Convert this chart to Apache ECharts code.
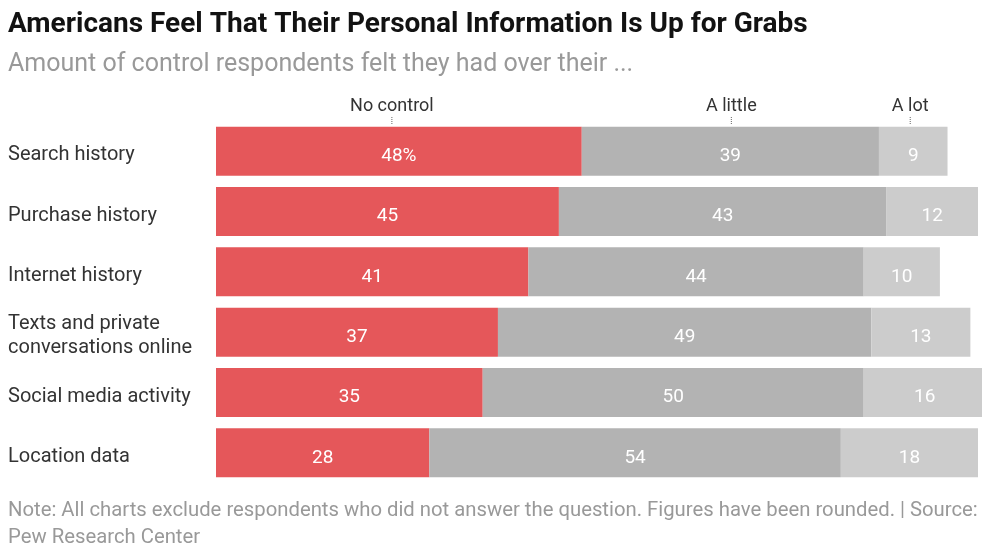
<!DOCTYPE html>
<html><head><meta charset="utf-8">
<script src="https://cdn.jsdelivr.net/npm/echarts@6/dist/echarts.min.js"></script>
<style>html,body{margin:0;padding:0;background:#fff}#c{width:982px;height:546px}</style>
</head><body><div id="c"></div>
<script>
const categories = ['Search history','Purchase history','Internet history','Texts and private\nconversations online','Social media activity','Location data'];
const seriesNames = ['No control','A little','A lot'];
const noControl = [48,45,41,37,35,28];
const aLittle = [39,43,44,49,50,54];
const aLot = [9,12,10,13,16,18];
const colors = ['#e5575a','#b3b3b3','#cccccc'];

const chart = echarts.init(document.getElementById('c'), null, {renderer:'canvas'});
const vals = [noControl, aLittle, aLot];
const series = seriesNames.map((n,i)=>({
  name:n, type:'bar', stack:'t', barWidth:49, clip:false,
  data: vals[i],
  itemStyle:{color:colors[i]},
  label:{show:true, position:'inside', color:'#fff', fontSize:19, fontFamily:'Roboto', offset:[0,5],
    formatter: p => (i===0 && p.dataIndex===0) ? p.value+'%' : String(p.value)}
}));
chart.setOption({
  animation:false,
  grid:{left:216, width:762, top:121, height:362},
  xAxis:{type:'value', min:0, max:100, show:false},
  yAxis:{type:'category', data:categories, inverse:true,
    axisLine:{show:false}, axisTick:{show:false}, axisLabel:{show:false}},
  title:[
    {text:'Americans Feel That Their Personal Information Is Up for Grabs', left:8, top:11, padding:0,
     textStyle:{fontSize:28, fontWeight:'bold', color:'#121212', fontFamily:'Roboto'}},
    {text:'Amount of control respondents felt they had over their ...', left:8, top:52, padding:0,
     textStyle:{fontSize:25, fontWeight:'normal', color:'#999', fontFamily:'Roboto'}},
    {text:'Note: All charts exclude respondents who did not answer the question. Figures have been rounded. | Source:\nPew Research Center', left:8, top:497, padding:0,
     textStyle:{fontSize:20.3, fontWeight:'normal', color:'#999', fontFamily:'Roboto', lineHeight:27}}
  ],
  series
});
const g = [];
// category labels, placed on the category axis positions
categories.forEach((c,k)=>{
  const y = chart.convertToPixel({yAxisIndex:0}, k) + 4;
  g.push({type:'text', x:8, y, style:{text:c, fill:'#333', fontSize:20, fontFamily:'Roboto', lineHeight:24, align:'left', verticalAlign:'middle'}});
});
// header labels over the first row's segments
let acc = 0;
const offs = [-7, 1, -3];
vals.forEach((arr,i)=>{
  const mid = acc + arr[0]/2; acc += arr[0];
  const x = chart.convertToPixel({gridIndex:0}, [mid, 0])[0] + offs[i];
  g.push({type:'text', x, y:106, style:{text:seriesNames[i], fill:'#333', fontSize:18, fontFamily:'Roboto', align:'center', verticalAlign:'middle'}});
  g.push({type:'line', shape:{x1:x, y1:117, x2:x, y2:125}, style:{stroke:'#666', lineWidth:1, lineDash:[1,1]}});
});
chart.setOption({graphic:g});
</script></body></html>
